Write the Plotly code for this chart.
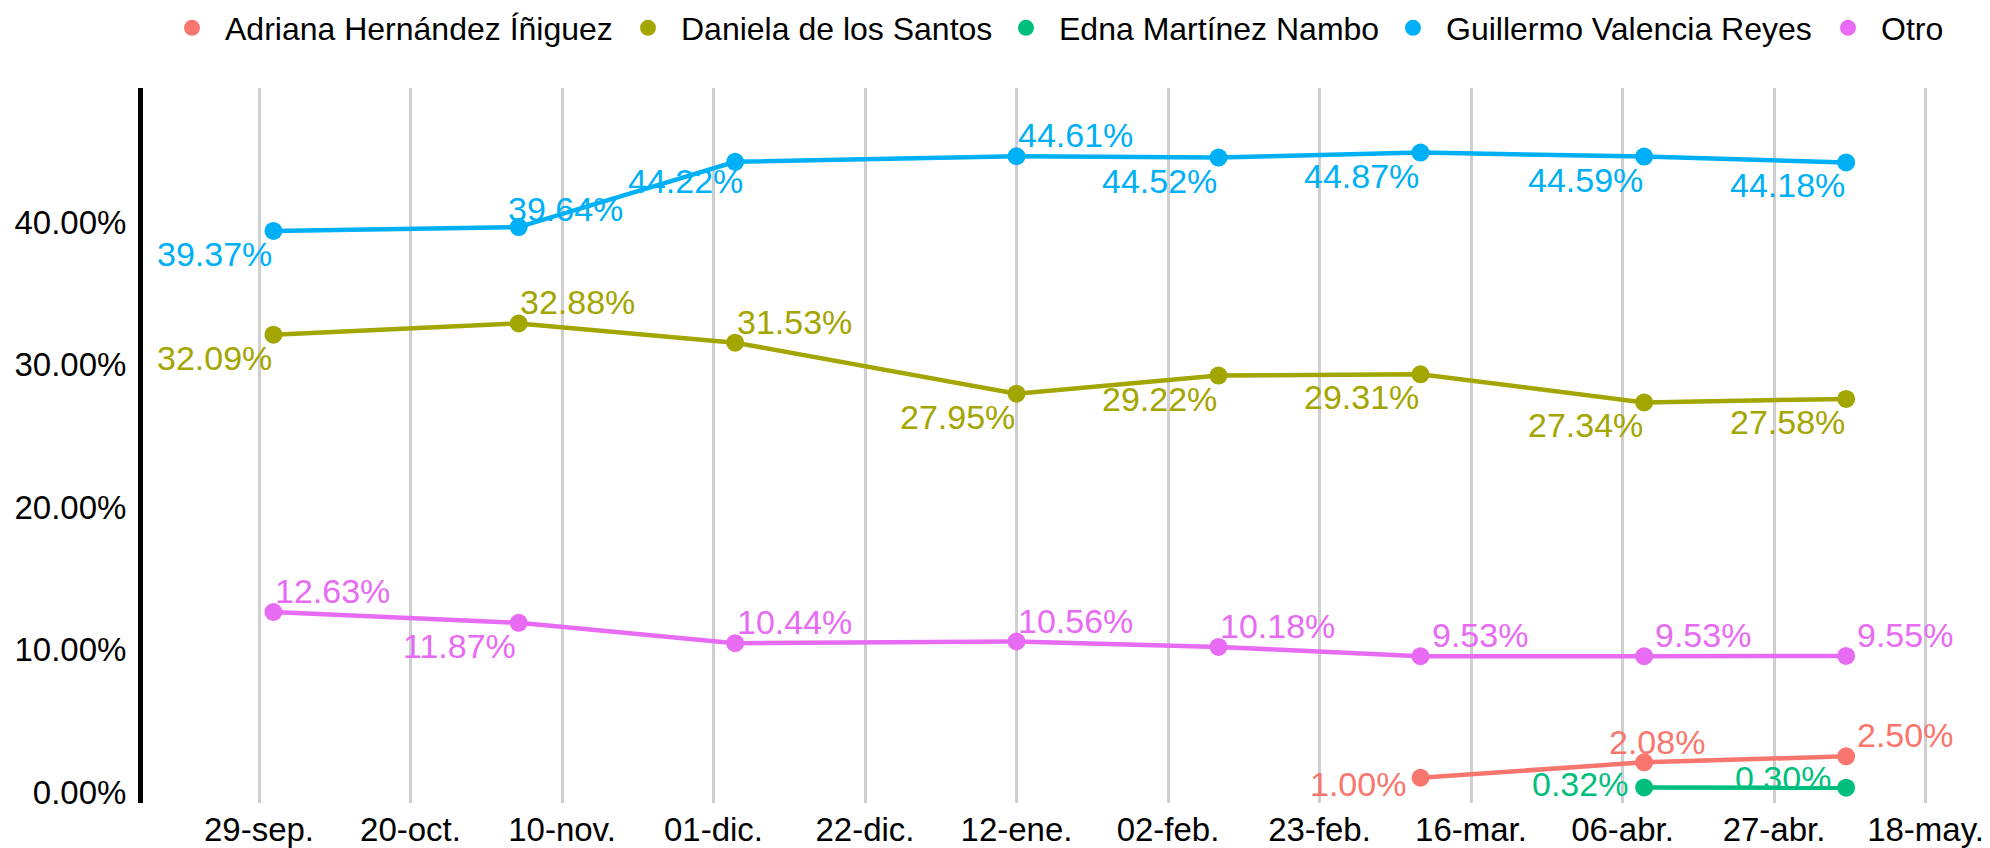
import plotly.graph_objects as go
import pandas as pd

# ---------------- data ----------------
dates_all = ["2024-10-01", "2024-11-04", "2024-12-04", "2025-01-12",
             "2025-02-09", "2025-03-09", "2025-04-09", "2025-05-07"]
dates_adriana = ["2025-03-09", "2025-04-09", "2025-05-07"]
dates_edna = ["2025-04-09", "2025-05-07"]

adriana = [1.00, 2.08, 2.50]
daniela = [32.09, 32.88, 31.53, 27.95, 29.22, 29.31, 27.34, 27.58]
edna = [0.32, 0.30]
guillermo = [39.37, 39.64, 44.22, 44.61, 44.52, 44.87, 44.59, 44.18]
otro = [12.63, 11.87, 10.44, 10.56, 10.18, 9.53, 9.53, 9.55]

tick_dates = ["2024-09-29", "2024-10-20", "2024-11-10", "2024-12-01", "2024-12-22",
              "2025-01-12", "2025-02-02", "2025-02-23", "2025-03-16", "2025-04-06",
              "2025-04-27", "2025-05-18"]
tick_labels = ["29-sep.", "20-oct.", "10-nov.", "01-dic.", "22-dic.", "12-ene.",
               "02-feb.", "23-feb.", "16-mar.", "06-abr.", "27-abr.", "18-may."]
y_ticks = [0, 0.10, 0.20, 0.30, 0.40]

# ---------------- styles ----------------
series = [
    ("Adriana Hernández Íñiguez", dates_adriana, adriana, "#F8766D", ["l_lo", "tc", "tr"]),
    ("Daniela de los Santos", dates_all, daniela, "#A3A500", ["bl", "tr", "tr", "bl", "bl", "bl", "bl", "bl"]),
    ("Edna Martínez Nambo", dates_edna, edna, "#00BF7D", ["l", "l_hi"]),
    ("Guillermo Valencia Reyes", dates_all, guillermo, "#00B0F6", ["bl", "tr2", "bl2", "tr", "bl", "bl", "bl", "bl"]),
    ("Otro", dates_all, otro, "#E76BF3", ["tr", "bl", "tr", "tr", "tr", "tr", "tr", "tr"]),
]
# (dx, dy) offsets in px for label cap-centre relative to point (dy positive = down)
offsets = {"tr": (59, -21), "bl": (-59, 23), "tr2": (47, -18), "bl2": (-50, 19),
           "l": (-64, -3), "l_lo": (-63, 6), "l_hi": (-63, -10), "tc": (13, -20)}
legend_marker_px = [192, 648, 1026, 1413, 1848]

FONT = "Liberation Sans, Arial, sans-serif"
W, H = 1990, 848
ML, MR, MT, MB = 143, 15, 88, 45
CAP_ADJ = 0  # shift between text-box middle and cap centre

fig = go.Figure()
annotations = []
for i, (name, xs, ys, col, pos) in enumerate(series):
    yv = [v / 100 for v in ys]
    fig.add_trace(go.Scatter(x=xs, y=yv, mode="lines", line=dict(color=col, width=4.5),
                             showlegend=False, hoverinfo="skip"))
    lg = "legend" if i == 0 else f"legend{i + 1}"
    fig.add_trace(go.Scatter(x=xs, y=yv, mode="markers", name=name,
                             marker=dict(color=col, size=18), legend=lg))
    for x, v, p in zip(xs, ys, pos):
        dx, dy = offsets[p]
        annotations.append(dict(x=x, y=v / 100, xref="x", yref="y", text=f"{v:.2f}%",
                                showarrow=False, xanchor="center", yanchor="middle",
                                xshift=dx, yshift=-dy + CAP_ADJ,
                                font=dict(family=FONT, size=34, color=col)))

# legends: one per series, placed along the top
leg_layout = {}
for i, mpx in enumerate(legend_marker_px):
    key = "legend" if i == 0 else f"legend{i + 1}"
    leg_layout[key] = dict(xref="container", yref="container",
                           x=(mpx - 33) / W, y=1 - 28 / H, xanchor="left", yanchor="middle",
                           orientation="h", itemwidth=56, bgcolor="rgba(0,0,0,0)",
                           font=dict(family=FONT, size=32, color="black"))

t0 = pd.Timestamp("2024-09-29")
px_per_day = 151.5 / 21
x_start = t0 + pd.Timedelta(days=(ML - 259) / px_per_day)
x_end = t0 + pd.Timedelta(days=(W - MR - 259) / px_per_day)

fig.update_layout(
    width=W, height=H,
    margin=dict(l=ML, r=MR, t=MT, b=MB, pad=0, autoexpand=False),
    paper_bgcolor="white", plot_bgcolor="white",
    font=dict(family=FONT, size=33, color="black"),
    annotations=annotations,
    hovermode="closest",
    **leg_layout,
)
fig.update_xaxes(range=[x_start, x_end], tickmode="array", tickvals=tick_dates,
                 ticktext=tick_labels, showgrid=True, gridcolor="#cfcfcf", gridwidth=3,
                 zeroline=False, showline=False, ticks="", automargin=False,
                 ticklabelstandoff=4,
                 tickfont=dict(family=FONT, size=33, color="black"))
fig.update_yaxes(range=[-0.00772, 0.4940], tickmode="array", tickvals=y_ticks,
                 tickformat=".2%", showgrid=False, zeroline=False, showline=True,
                 linecolor="black", linewidth=5, ticks="", ticklabelstandoff=5,
                 automargin=False,
                 tickfont=dict(family=FONT, size=33, color="black"))

fig.write_html("out.html", config={"displayModeBar": False},
               post_script="document.body.style.margin='0';"
                           "document.body.style.overflow='hidden';")
